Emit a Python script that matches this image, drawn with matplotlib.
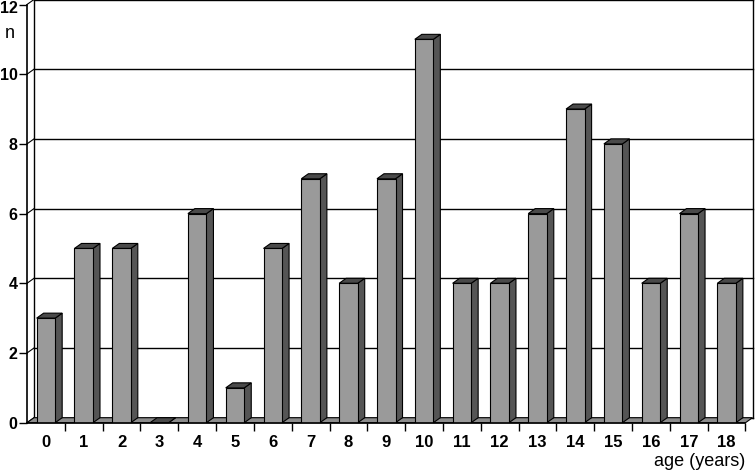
import matplotlib.pyplot as plt
import matplotlib.transforms as mtransforms
from matplotlib.patches import Polygon
import numpy as np

# data ==========================================================
ages = [str(a) for a in range(19)]
counts = [3, 5, 5, 0, 6, 1, 5, 7, 4, 7, 11, 4, 4, 6, 9, 8, 4, 6, 4]
yticks = [0, 2, 4, 6, 8, 10, 12]

plt.rcParams['font.family'] = ['Liberation Sans', 'DejaVu Sans']

W, H = 755, 474
fig = plt.figure(figsize=(W / 100., H / 100.), dpi=100)
# front axis: x 27 -> 745.5 px, y 422.7 -> 4.5 px
ax = fig.add_axes([27. / W, (H - 422.7) / H, (745.5 - 27.) / W, (422.7 - 4.5) / H])
n = len(counts)
ax.set_xlim(0, n)
ax.set_ylim(0, 12)

dx = 7 / 37.8      # depth offset in category units
dy = 5 / 34.85     # depth offset in count units
bw = 0.49          # bar width
front = '#9a9a9a'
side = '#555555'
top = '#4a4a4a'

# back walls and gridlines =======================================
for v in yticks:
    ax.plot([dx, n + dx], [v + dy, v + dy], color='black', lw=1.0,
            clip_on=False, zorder=1)
    ax.plot([0, dx], [v, v + dy], color='black', lw=0.8, clip_on=False, zorder=1)
ax.plot([dx, dx], [dy, 12 + dy], color='black', lw=1.0, clip_on=False, zorder=1)
ax.plot([n + dx, n + dx], [dy, 12 + dy], color='black', lw=1.0,
        clip_on=False, zorder=1)

# floor
ax.add_patch(Polygon([(0, 0), (n, 0), (n + dx, dy), (dx, dy)], closed=True,
                     facecolor='#8c8c8c', edgecolor='black', lw=0.8,
                     clip_on=False, zorder=2))

# bars ===========================================================
for i, c in enumerate(counts):
    x0 = i + 0.5 - bw / 2.
    x1 = x0 + bw
    ax.add_patch(Polygon([(x1, 0), (x1 + dx, dy), (x1 + dx, c + dy), (x1, c)],
                         closed=True, facecolor=side, edgecolor='black',
                         lw=0.8, clip_on=False, zorder=3))
    ax.add_patch(Polygon([(x0, c), (x1, c), (x1 + dx, c + dy), (x0 + dx, c + dy)],
                         closed=True, facecolor=top, edgecolor='black',
                         lw=0.8, clip_on=False, zorder=3))
ax.bar(np.arange(n) + 0.5, counts, width=bw, color=front, edgecolor='black',
       linewidth=0.8, zorder=4)

# axes ===========================================================
for s in ['top', 'right']:
    ax.spines[s].set_visible(False)
for s in ['left', 'bottom']:
    ax.spines[s].set_linewidth(1.2)
    ax.spines[s].set_zorder(5)

ax.set_yticks(yticks)
ax.set_yticklabels([str(v) for v in yticks], fontweight='bold', fontsize=11.5)
ax.tick_params(axis='y', length=6, width=1.0, pad=0.8)
top_lbl = ax.get_yticklabels()[-1]
top_lbl.set_va('top')
top_lbl.set_transform(top_lbl.get_transform() +
                      mtransforms.ScaledTranslation(0, 3.5 / 100., fig.dpi_scale_trans))

ax.set_xticks(np.arange(1, n + 1))
ax.set_xticklabels([])
ax.tick_params(axis='x', which='major', length=6, width=1.0, direction='out')
ax.set_xticks(np.arange(n) + 0.5, minor=True)
ax.set_xticklabels(ages, minor=True, fontweight='bold', fontsize=12)
ax.tick_params(axis='x', which='minor', length=0, pad=9)

fig.text(10. / W, 1 - 33. / H, 'n', fontsize=13, ha='center', va='center')
fig.text(700. / W, 1 - 462. / H, 'age (years)', fontsize=13, ha='center',
         va='center')

fig.savefig('out.png', dpi=100)
